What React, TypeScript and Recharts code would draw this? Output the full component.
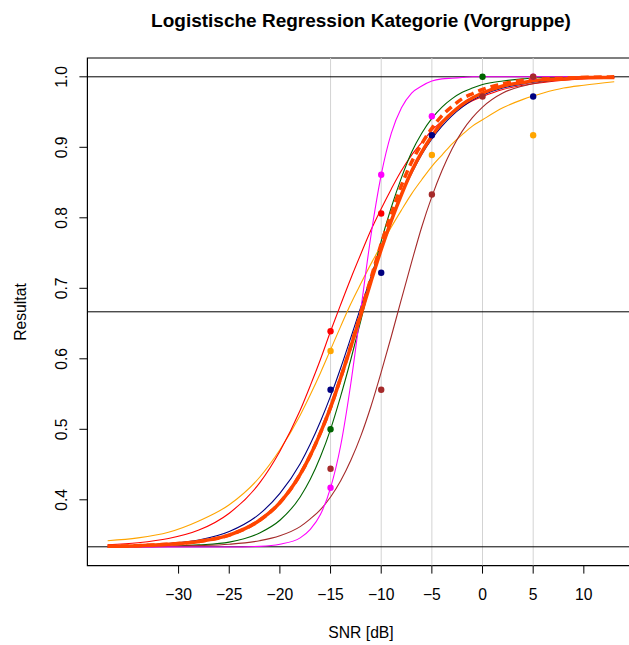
import React from 'react';
import {
  ComposedChart,
  Line,
  Scatter,
  XAxis,
  YAxis,
  ReferenceLine,
  ReferenceArea,
} from 'recharts';

// SNR grid the fitted curves were read at
const snr = [-37, -34, -31, -28, -25, -22, -20, -18, -17, -16, -15, -14, -13, -12, -11, -10, -9, -8, -7, -6, -5, -4, -3, -2, -1, 0, 2, 4, 6, 8, 10, 13];

// fitted logistic curves
const orangeFit = [0.342, 0.346, 0.354, 0.370, 0.393, 0.432, 0.471, 0.520, 0.549, 0.580, 0.613, 0.646, 0.678, 0.707, 0.735, 0.761, 0.787, 0.811, 0.834, 0.854, 0.873, 0.889, 0.905, 0.918, 0.930, 0.939, 0.956, 0.968, 0.977, 0.984, 0.988, 0.993];
const redFit = [0.336, 0.339, 0.345, 0.357, 0.381, 0.424, 0.469, 0.527, 0.562, 0.599, 0.639, 0.677, 0.714, 0.749, 0.783, 0.813, 0.841, 0.867, 0.889, 0.907, 0.924, 0.937, 0.949, 0.958, 0.966, 0.972, 0.982, 0.988, 0.992, 0.995, 0.997, 0.998];
const navyFit = [0.334, 0.335, 0.338, 0.343, 0.355, 0.380, 0.409, 0.451, 0.479, 0.511, 0.547, 0.587, 0.630, 0.674, 0.717, 0.759, 0.798, 0.833, 0.863, 0.890, 0.912, 0.930, 0.945, 0.957, 0.967, 0.974, 0.984, 0.990, 0.994, 0.997, 0.998, 0.999];
const greenFit = [0.333, 0.334, 0.334, 0.336, 0.340, 0.353, 0.371, 0.404, 0.429, 0.461, 0.500, 0.547, 0.599, 0.655, 0.712, 0.767, 0.815, 0.857, 0.893, 0.920, 0.941, 0.957, 0.969, 0.978, 0.984, 0.989, 0.994, 0.997, 0.999, 0.999, 1.0, 1.0];
const brownFit = [0.333, 0.333, 0.334, 0.335, 0.337, 0.342, 0.349, 0.362, 0.373, 0.386, 0.404, 0.427, 0.456, 0.491, 0.533, 0.581, 0.632, 0.685, 0.737, 0.787, 0.830, 0.867, 0.898, 0.923, 0.942, 0.957, 0.977, 0.987, 0.993, 0.996, 0.998, 0.999];
const magentaFit = [0.333, 0.333, 0.333, 0.333, 0.333, 0.334, 0.337, 0.346, 0.358, 0.379, 0.417, 0.477, 0.565, 0.671, 0.776, 0.861, 0.920, 0.956, 0.977, 0.987, 0.994, 0.997, 0.998, 0.999, 1.0, 1.0, 1.0, 1.0, 1.0, 1.0, 1.0, 1.0];
const meanFit = [0.334, 0.335, 0.337, 0.341, 0.350, 0.371, 0.396, 0.436, 0.463, 0.495, 0.531, 0.573, 0.617, 0.663, 0.710, 0.755, 0.796, 0.833, 0.866, 0.893, 0.916, 0.935, 0.949, 0.961, 0.970, 0.977, 0.987, 0.992, 0.996, 0.997, 0.999, 0.999];
const pooledFit = [0.334, 0.335, 0.337, 0.341, 0.350, 0.371, 0.396, 0.436, 0.463, 0.495, 0.531, 0.573, 0.618, 0.666, 0.715, 0.763, 0.806, 0.846, 0.879, 0.905, 0.927, 0.945, 0.958, 0.969, 0.976, 0.982, 0.990, 0.995, 0.997, 0.998, 0.999, 1.0];

// observed proportions
const orangePts = [{ x: -15, y: 0.611 }, { x: -5, y: 0.889 }, { x: 5, y: 0.917 }];
const redPts = [{ x: -15, y: 0.639 }, { x: -10, y: 0.806 }];
const navyPts = [{ x: -15, y: 0.556 }, { x: -10, y: 0.722 }, { x: -5, y: 0.917 }, { x: 5, y: 0.972 }];
const greenPts = [{ x: -15, y: 0.5 }, { x: 0, y: 1.0 }];
const magentaPts = [{ x: -15, y: 0.417 }, { x: -10, y: 0.861 }, { x: -5, y: 0.944 }, { x: 5, y: 1.0 }];
const brownPts = [{ x: -15, y: 0.444 }, { x: -10, y: 0.556 }, { x: -5, y: 0.833 }, { x: 0, y: 0.972 }, { x: 5, y: 1.0 }];

const xTicks = [-30, -25, -20, -15, -10, -5, 0, 5, 10];
const yTicks = [0.4, 0.5, 0.6, 0.7, 0.8, 0.9, 1.0];
const gridX = [-15, -10, -5, 0, 5];
const levels = [1 / 3, 2 / 3, 1];

const FONT = '"Liberation Sans", Arial, Helvetica, sans-serif';

const rows = snr.map((x, i) => ({
  x,
  orange: orangeFit[i],
  red: redFit[i],
  navy: navyFit[i],
  green: greenFit[i],
  brown: brownFit[i],
  magenta: magentaFit[i],
  mean: meanFit[i],
  pooled: pooledFit[i],
}));

const thin = [
  { key: 'orange', color: '#FFA500' },
  { key: 'red', color: '#FF0000' },
  { key: 'navy', color: '#000080' },
  { key: 'green', color: '#006400' },
  { key: 'brown', color: '#A52A2A' },
  { key: 'magenta', color: '#FF00FF' },
];

const points = [
  { data: orangePts, color: '#FFA500' },
  { data: redPts, color: '#FF0000' },
  { data: navyPts, color: '#000080' },
  { data: greenPts, color: '#006400' },
  { data: magentaPts, color: '#FF00FF' },
  { data: brownPts, color: '#A52A2A' },
];

const fmtX = (v: number) => (v < 0 ? '\u2212' + Math.abs(v) : String(v));

function XTick(props: any) {
  const { x, payload } = props;
  return (
    <text x={x} y={600} textAnchor="middle" fontSize={15.7} fontFamily={FONT} fill="#000">
      {fmtX(payload.value)}
    </text>
  );
}

function YTick(props: any) {
  const { y, payload } = props;
  const bx = 67.5;
  return (
    <text x={bx} y={y} transform={`rotate(-90, ${bx}, ${y})`} textAnchor="middle" fontSize={15.7} fontFamily={FONT} fill="#000">
      {payload.value.toFixed(1)}
    </text>
  );
}

export default function App() {
  return (
    <div style={{ position: 'absolute', left: 0, top: 0, width: 629, height: 645, overflow: 'hidden', background: '#fff' }}>
      <ComposedChart
        width={660}
        height={645}
        data={rows}
        margin={{ top: 58, right: 25.5, bottom: 0, left: 0 }}
      >
        <XAxis
          dataKey="x"
          type="number"
          domain={[-39, 15]}
          ticks={xTicks}
          interval={0}
          allowDataOverflow
          axisLine={false}
          tickSize={8}
          tickLine={{ stroke: '#000' }}
          tick={<XTick />}
          height={79.4}
        />
        <YAxis
          type="number"
          domain={[0.30667, 1.02667]}
          ticks={yTicks}
          interval={0}
          allowDataOverflow
          axisLine={false}
          tickSize={8}
          tickLine={{ stroke: '#000' }}
          tick={<YTick />}
          width={87.4}
        />
        {gridX.map((v) => (
          <ReferenceLine key={'gx' + v} x={v} stroke="#D3D3D3" strokeWidth={1} />
        ))}
        {levels.map((v) => (
          <ReferenceLine key={'lv' + v} y={v} stroke="#000" strokeWidth={1} />
        ))}
        <ReferenceArea x1={-39} x2={15} y1={0.30667} y2={1.02667} fill="none" fillOpacity={0} stroke="#000" strokeWidth={1.2} />
        {thin.map((s) => (
          <Line
            key={s.key}
            dataKey={s.key}
            type="monotone"
            stroke={s.color}
            strokeWidth={1.1}
            dot={false}
            activeDot={false}
            isAnimationActive={false}
          />
        ))}
        <Line dataKey="mean" type="monotone" stroke="#FF4500" strokeWidth={3.5} dot={false} activeDot={false} isAnimationActive={false} />
        <Line dataKey="pooled" type="monotone" stroke="#FF4500" strokeWidth={3.5} strokeDasharray="8 5" dot={false} activeDot={false} isAnimationActive={false} />
        {points.map((p, i) => (
          <Scatter
            key={'pts' + i}
            data={p.data}
            dataKey="y"
            fill={p.color}
            isAnimationActive={false}
            shape={(sp: any) => <circle cx={sp.cx} cy={sp.cy} r={3.2} fill={p.color} />}
          />
        ))}
      </ComposedChart>
      <svg width={629} height={645} style={{ position: 'absolute', left: 0, top: 0, pointerEvents: 'none' }}>
        <text x={361} y={27} textAnchor="middle" fontSize={19} fontWeight="bold" fontFamily={FONT} fill="#000">
          Logistische Regression Kategorie (Vorgruppe)
        </text>
        <text x={25.5} y={312} transform="rotate(-90, 25.5, 312)" textAnchor="middle" fontSize={15.7} fontFamily={FONT} fill="#000">
          Resultat
        </text>
        <text x={361} y={638} textAnchor="middle" fontSize={15.7} fontFamily={FONT} fill="#000">
          SNR [dB]
        </text>
      </svg>
    </div>
  );
}
